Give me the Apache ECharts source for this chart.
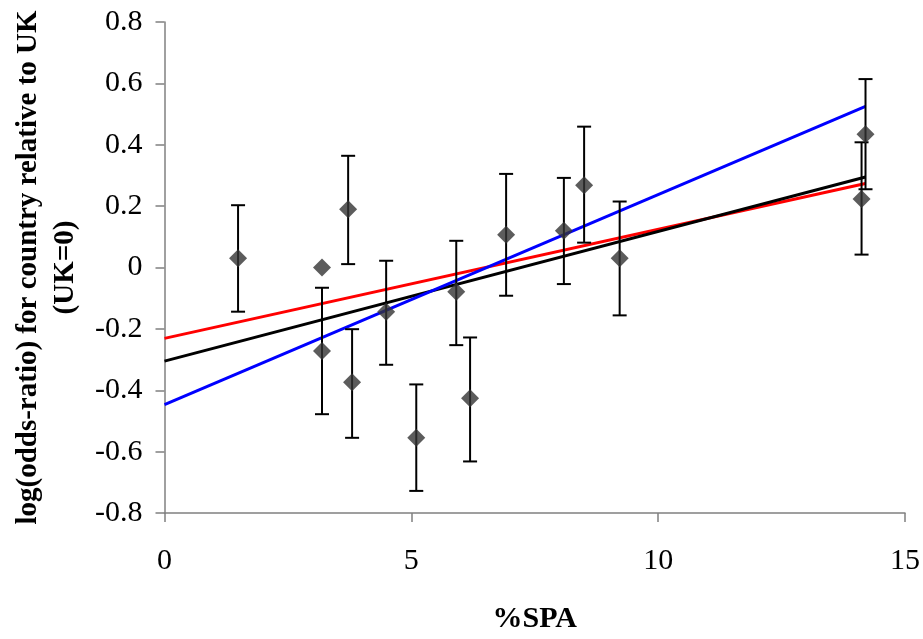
<!DOCTYPE html>
<html>
<head>
<meta charset="utf-8">
<script src="https://cdn.jsdelivr.net/npm/echarts@6/dist/echarts.min.js"></script>
<style>html,body{margin:0;padding:0;background:#fff;}#c{width:923px;height:639px;}</style>
</head>
<body>
<div id="c"></div>
<script>
// Data
var spa   = [1.49, 3.19, 3.19, 3.72, 3.80, 4.49, 5.10, 5.91, 6.19, 6.92, 8.09, 8.50, 9.22, 14.12, 14.20];
var logOR = [0.030, 0.000, -0.272, 0.190, -0.374, -0.144, -0.555, -0.079, -0.426, 0.107, 0.120, 0.268, 0.030, 0.223, 0.434];
var errHigh = [0.203, null, -0.066, 0.364, -0.201, 0.022, -0.381, 0.087, -0.228, 0.305, 0.292, 0.459, 0.215, 0.408, 0.614];
var errLow  = [-0.144, null, -0.478, 0.011, -0.555, -0.317, -0.728, -0.253, -0.632, -0.092, -0.054, 0.081, -0.156, 0.042, 0.255];
var blueLine  = [[0, -0.447], [14.20, 0.525]];
var blackLine = [[0, -0.305], [14.20, 0.295]];
var redLine   = [[0, -0.231], [14.20, 0.274]];
var xTicks = [0, 5, 10, 15];
var yTicks = [-0.8, -0.6, -0.4, -0.2, 0, 0.2, 0.4, 0.6, 0.8];

var FONT = 'Liberation Serif';
var points = spa.map(function (x, i) { return [x, logOR[i]]; });
var bars = [];
spa.forEach(function (x, i) {
  if (errHigh[i] !== null) bars.push([x, errLow[i], errHigh[i]]);
});

var chart = echarts.init(document.getElementById('c'), null, {renderer: 'canvas'});
chart.setOption({
  animation: false,
  backgroundColor: '#ffffff',
  grid: {left: 164.5, right: 15.5, top: 22, bottom: 119, containLabel: false},
  xAxis: {
    type: 'value', min: 0, max: 15, interval: 5,
    name: '%SPA', nameLocation: 'middle', nameGap: 91,
    nameTextStyle: {fontFamily: FONT, fontSize: 30, fontWeight: 'bold', color: '#000'},
    axisLine: {onZero: false, lineStyle: {color: '#808080', width: 1.5}},
    axisTick: {show: true, inside: false, length: 9, lineStyle: {color: '#808080', width: 1.5}},
    axisLabel: {fontFamily: FONT, fontSize: 30, color: '#000', margin: 33,
      formatter: function (v) { return xTicks.indexOf(v) >= 0 ? String(v) : ''; }},
    splitLine: {show: false}
  },
  yAxis: {
    type: 'value', min: -0.8, max: 0.8, interval: 0.2,
    name: 'log(odds-ratio) for country relative to UK\n(UK=0)',
    nameLocation: 'middle', nameRotate: 90, nameGap: 79,
    nameTextStyle: {fontFamily: FONT, fontSize: 29, fontWeight: 'bold', color: '#000', lineHeight: 37, align: 'center'},
    axisLine: {show: true, onZero: false, lineStyle: {color: '#808080', width: 1.5}},
    axisTick: {show: true, inside: false, length: 9, lineStyle: {color: '#808080', width: 1.5}},
    axisLabel: {fontFamily: FONT, fontSize: 30, color: '#000', margin: 22,
      formatter: function (v) {
        var r = Math.round(v * 10) / 10;
        for (var k = 0; k < yTicks.length; k++) if (Math.abs(yTicks[k] - r) < 1e-9) return r === 0 ? '0' : r.toFixed(1);
        return '';
      }},
    splitLine: {show: false}
  },
  series: [
    {type: 'line', data: redLine, symbol: 'none', z: 2,
      lineStyle: {color: '#ff0000', width: 3}},
    {type: 'line', data: blackLine, symbol: 'none', z: 2,
      lineStyle: {color: '#000000', width: 3}},
    {type: 'line', data: blueLine, symbol: 'none', z: 2,
      lineStyle: {color: '#0000ff', width: 3}},
    {type: 'custom', z: 3, data: bars,
      renderItem: function (params, api) {
        var x = api.value(0);
        var lo = api.coord([x, api.value(1)]);
        var hi = api.coord([x, api.value(2)]);
        var hw = 7;
        var st = {stroke: '#000', lineWidth: 2};
        return {type: 'group', children: [
          {type: 'line', shape: {x1: lo[0], y1: lo[1], x2: hi[0], y2: hi[1]}, style: st},
          {type: 'line', shape: {x1: lo[0] - hw, y1: lo[1], x2: lo[0] + hw, y2: lo[1]}, style: st},
          {type: 'line', shape: {x1: hi[0] - hw, y1: hi[1], x2: hi[0] + hw, y2: hi[1]}, style: st}
        ]};
      }},
    {type: 'scatter', z: 4, data: points, symbol: 'diamond', symbolSize: 18,
      itemStyle: {color: '#333333'}}
  ]
});
</script>
</body>
</html>
